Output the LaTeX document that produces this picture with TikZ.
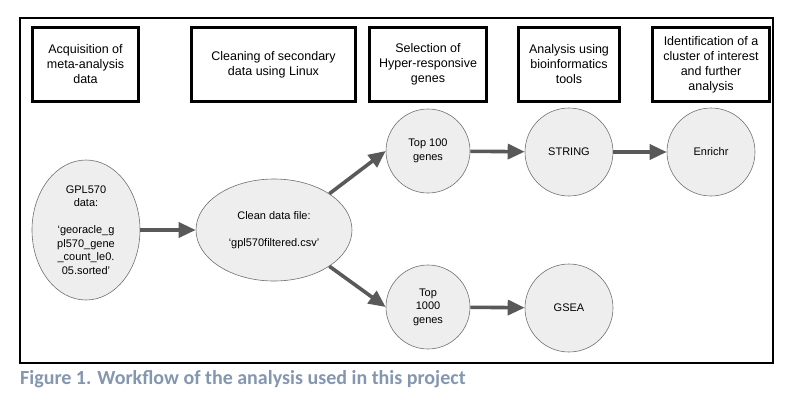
\documentclass[tikz,border=0pt]{standalone}
\usepackage{fontspec}
\setmainfont{Liberation Sans}
\newfontfamily\capfont{Carlito}
\usetikzlibrary{shapes,arrows.meta}
\definecolor{bubblefill}{HTML}{EEEEEE}
\definecolor{bubbleline}{HTML}{707070}
\definecolor{flowgray}{HTML}{595959}
\definecolor{captionblue}{HTML}{8496B0}

\begin{document}
\begin{tikzpicture}[x=1pt, y=-1pt,
    stage/.style={rectangle, draw, line width=2.8pt, align=center, inner sep=0pt,
      minimum height=74pt, font=\fontsize{12.5}{15}\selectfont},
    bubble/.style={draw=bubbleline, fill=bubblefill, line width=0.6pt, align=center,
      inner sep=0pt, font=\fontsize{11}{13.5}\selectfont},
    flow/.style={draw=flowgray, line width=3.6pt, -{Triangle[length=17pt,width=15pt]}}]
      \useasboundingbox (0, 0) rectangle (792, 402);
      \draw [line width=2pt] (20, 18) rectangle (773, 363);
      \node [stage, minimum width=106pt] (acquisition) at (85.5, 64.5) {Acquisition of\\meta-analysis\\data};
      \node [stage, minimum width=164pt] (cleaning) at (273.5, 64.5) {Cleaning of secondary\\data using Linux};
      \node [stage, minimum width=117pt] (selection) at (428, 64.5) {Selection of\\Hyper-responsive\\genes};
      \node [stage, minimum width=101pt] (analysis) at (569, 64.5) {Analysis using\\bioinformatics\\tools};
      \node [stage, minimum width=117pt] (identification) at (711, 64.5) {Identification of a\\cluster of interest\\and further\\analysis};
      \node [bubble, ellipse, minimum width=108pt, minimum height=140pt] (gpl) at (86, 230)
        {GPL570\\data:\\[13.5pt]‘georacle\_g\\pl570\_gene\\\_count\_le0.\\05.sorted’};
      \node [bubble, ellipse, minimum width=156pt, minimum height=102pt] (cleanfile) at (274, 230)
        {Clean data file:\\[13.5pt]‘gpl570filtered.csv’};
      \node [bubble, circle, minimum size=84pt] (top100) at (428, 151) {Top 100\\genes};
      \node [bubble, circle, minimum size=88pt] (string) at (569, 152) {STRING};
      \node [bubble, circle, minimum size=88pt] (enrichr) at (711, 152) {Enrichr};
      \node [bubble, circle, minimum size=84pt] (top1000) at (428, 307) {Top\\1000\\genes};
      \node [bubble, circle, minimum size=88pt] (gsea) at (569, 308) {GSEA};
      \node [anchor=base west, inner sep=0pt, text=captionblue, font=\capfont\bfseries\fontsize{20}{24}\selectfont] (caption) at (20, 384)
        {Figure 1. Workflow of the analysis used in this project};
      \draw [flow] (gpl) -- (cleanfile);
      \draw [flow] (cleanfile.north east) -- (top100.west);
      \draw [flow] (cleanfile.south east) -- (top1000.west);
      \draw [flow] (top100) -- (string);
      \draw [flow] (string) -- (enrichr);
      \draw [flow] (top1000) -- (gsea);
    \end{tikzpicture}
\end{document}
